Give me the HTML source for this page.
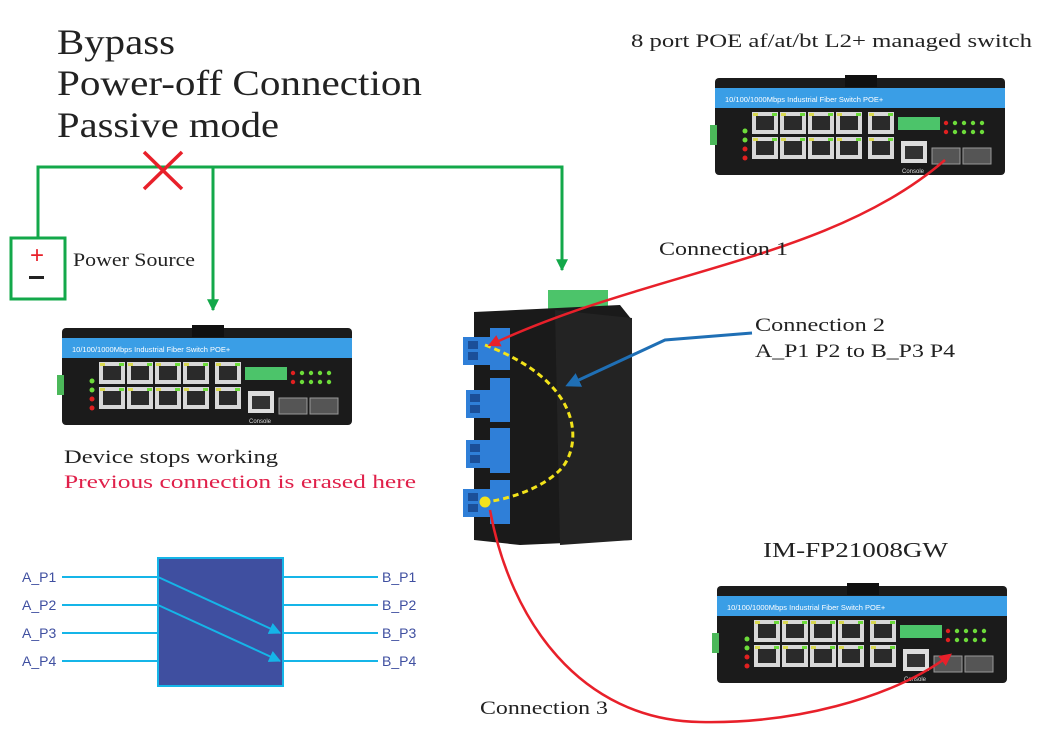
<!DOCTYPE html>
<html><head><meta charset="utf-8"><style>
html,body{margin:0;padding:0;background:#fff;}
svg{display:block}
.t{font-family:"Liberation Serif",serif;fill:#222}
.s{font-family:"Liberation Sans",sans-serif}
</style></head><body>
<svg width="1046" height="739" viewBox="0 0 1046 739" xmlns="http://www.w3.org/2000/svg">
<defs>
<marker id="ag" viewBox="0 0 10 10" refX="9" refY="5" markerWidth="4" markerHeight="4" orient="auto"><path d="M0,0L10,5L0,10z" fill="#13a84a"/></marker>
<marker id="ar" viewBox="0 0 10 10" refX="8" refY="5" markerWidth="5" markerHeight="5" orient="auto"><path d="M0,0L10,5L0,10z" fill="#e8202a"/></marker>
<marker id="ab" viewBox="0 0 10 10" refX="8" refY="5" markerWidth="5" markerHeight="5" orient="auto"><path d="M0,0L10,5L0,10z" fill="#1f6fb5"/></marker>
<marker id="ac" viewBox="0 0 10 10" refX="9" refY="5" markerWidth="6" markerHeight="6" orient="auto"><path d="M0,0L10,5L0,10z" fill="#15b5e8"/></marker>
<g id="port"><rect x="0" y="0" width="26" height="22" fill="#d8d8d8"/><rect x="4" y="4" width="18" height="14" fill="#2a2a2a"/><rect x="1" y="1" width="5" height="3" fill="#d8d850"/><rect x="20" y="1" width="5" height="3" fill="#6ddc3a"/></g>
<g id="sw">
<rect x="0" y="3" width="290" height="97" rx="4" fill="#1b1b1b"/>
<rect x="-5" y="50" width="7" height="20" fill="#4cb85a"/>
<rect x="0" y="13" width="290" height="20" fill="#3a9ee6"/>
<rect x="130" y="0" width="32" height="12" fill="#101010"/>
<use href="#port" x="37" y="37"/><use href="#port" x="65" y="37"/><use href="#port" x="93" y="37"/><use href="#port" x="121" y="37"/>
<use href="#port" x="37" y="62"/><use href="#port" x="65" y="62"/><use href="#port" x="93" y="62"/><use href="#port" x="121" y="62"/>
<use href="#port" x="153" y="37"/><use href="#port" x="153" y="62"/>
<rect x="183" y="42" width="42" height="13" fill="#4cc46a"/>
<rect x="186" y="66" width="26" height="22" fill="#ddd"/><rect x="190" y="71" width="18" height="13" fill="#333"/>
<rect x="217" y="73" width="28" height="16" fill="#555" stroke="#999"/><rect x="248" y="73" width="28" height="16" fill="#555" stroke="#999"/>
<circle cx="30" cy="56" r="2.5" fill="#6ddc3a"/><circle cx="30" cy="65" r="2.5" fill="#6ddc3a"/><circle cx="30" cy="74" r="2.5" fill="#e02020"/><circle cx="30" cy="83" r="2.5" fill="#e02020"/>
<circle cx="231" cy="48" r="2.2" fill="#e02020"/><circle cx="231" cy="57" r="2.2" fill="#e02020"/>
<circle cx="240" cy="48" r="2.2" fill="#6ddc3a"/><circle cx="249" cy="48" r="2.2" fill="#6ddc3a"/><circle cx="258" cy="48" r="2.2" fill="#6ddc3a"/><circle cx="267" cy="48" r="2.2" fill="#6ddc3a"/>
<circle cx="240" cy="57" r="2.2" fill="#6ddc3a"/><circle cx="249" cy="57" r="2.2" fill="#6ddc3a"/><circle cx="258" cy="57" r="2.2" fill="#6ddc3a"/><circle cx="267" cy="57" r="2.2" fill="#6ddc3a"/>
</g>
</defs>

<g lengthAdjust="spacingAndGlyphs">
<text class="t" x="57" y="54" font-size="36" textLength="118" lengthAdjust="spacingAndGlyphs">Bypass</text>
<text class="t" x="57" y="95" font-size="36" textLength="365" lengthAdjust="spacingAndGlyphs">Power-off Connection</text>
<text class="t" x="57" y="137" font-size="36" textLength="222" lengthAdjust="spacingAndGlyphs">Passive mode</text>
<text class="t" x="631" y="47" font-size="19" textLength="401" lengthAdjust="spacingAndGlyphs">8  port POE af/at/bt L2+ managed switch</text>
</g>

<polyline points="38,237 38,167 562,167 562,270" fill="none" stroke="#13a84a" stroke-width="3" marker-end="url(#ag)"/>
<line x1="213" y1="167" x2="213" y2="310" stroke="#13a84a" stroke-width="3" marker-end="url(#ag)"/>
<rect x="11" y="238" width="54" height="61" fill="none" stroke="#13a84a" stroke-width="3"/>
<text x="37" y="263" font-size="24" fill="#e8202a" text-anchor="middle" class="s">+</text>
<rect x="29" y="276" width="15" height="3" fill="#222"/>
<text class="t" x="73" y="266" font-size="19" textLength="122" lengthAdjust="spacingAndGlyphs">Power Source</text>
<line x1="144" y1="152" x2="182" y2="189" stroke="#e8202a" stroke-width="3.5"/>
<line x1="182" y1="152" x2="144" y2="189" stroke="#e8202a" stroke-width="3.5"/>

<g transform="translate(62,325)"><use href="#sw"/>
<text x="10" y="27" font-size="7.5" fill="#fff" class="s">10/100/1000Mbps Industrial  Fiber Switch  POE+</text>
<text x="187" y="98" font-size="6" fill="#ddd" class="s">Console</text></g>
<text class="t" x="64" y="463" font-size="19" textLength="214" lengthAdjust="spacingAndGlyphs">Device stops working</text>
<text class="t" x="64" y="488" font-size="19" style="fill:#e0204a" textLength="352" lengthAdjust="spacingAndGlyphs">Previous connection  is  erased here</text>

<g transform="translate(715,75)"><use href="#sw"/>
<text x="10" y="27" font-size="7.5" fill="#fff" class="s">10/100/1000Mbps Industrial  Fiber Switch  POE+</text>
<text x="187" y="98" font-size="6" fill="#ddd" class="s">Console</text></g>

<text class="t" x="763" y="557" font-size="21" textLength="185" lengthAdjust="spacingAndGlyphs">IM-FP21008GW</text>
<g transform="translate(717,583)"><use href="#sw"/>
<text x="10" y="27" font-size="7.5" fill="#fff" class="s">10/100/1000Mbps Industrial  Fiber Switch  POE+</text>
<text x="187" y="98" font-size="6" fill="#ddd" class="s">Console</text></g>

<rect x="548" y="290" width="60" height="22" fill="#4cc46a"/>
<path d="M474,312 L620,305 L632,320 L632,540 L520,545 L474,540 Z" fill="#1a1a1a"/>
<path d="M555,310 L632,318 L632,540 L560,545 Z" fill="#232323"/>
<g fill="#2f7fd8">
<rect x="490" y="328" width="20" height="42"/><rect x="463" y="337" width="32" height="28"/>
<rect x="490" y="378" width="20" height="44"/><rect x="466" y="390" width="28" height="28"/>
<rect x="490" y="428" width="20" height="45"/><rect x="466" y="440" width="28" height="28"/>
<rect x="490" y="480" width="20" height="44"/><rect x="463" y="489" width="32" height="28"/>
</g>
<g fill="#1b4f99"><rect x="468" y="341" width="10" height="8"/><rect x="468" y="352" width="10" height="8"/>
<rect x="470" y="394" width="10" height="8"/><rect x="470" y="405" width="10" height="8"/>
<rect x="470" y="444" width="10" height="8"/><rect x="470" y="455" width="10" height="8"/>
<rect x="468" y="493" width="10" height="8"/><rect x="468" y="504" width="10" height="8"/></g>

<path d="M485,345 C590,385 580,450 560,470 C540,490 505,500 485,502" fill="none" stroke="#f2e31a" stroke-width="3" stroke-dasharray="6,4"/>
<circle cx="485" cy="502" r="5.5" fill="#f2e31a"/>
<path d="M945,160 C830,260 650,270 490,345" fill="none" stroke="#e8202a" stroke-width="2.5" marker-end="url(#ar)"/>
<polyline points="752,333 665,340 568,385" fill="none" stroke="#1f6fb5" stroke-width="3" marker-end="url(#ab)"/>
<path d="M490,510 C510,620 580,720 700,722 C790,724 890,700 950,655" fill="none" stroke="#e8202a" stroke-width="2.5" marker-end="url(#ar)"/>
<text class="t" x="659" y="255" font-size="19" textLength="129" lengthAdjust="spacingAndGlyphs">Connection 1</text>
<text class="t" x="755" y="331" font-size="19" textLength="130" lengthAdjust="spacingAndGlyphs">Connection 2</text>
<text class="t" x="755" y="357" font-size="19" textLength="200" lengthAdjust="spacingAndGlyphs">A_P1 P2 to B_P3 P4</text>
<text class="t" x="480" y="714" font-size="19" textLength="128" lengthAdjust="spacingAndGlyphs">Connection 3</text>

<rect x="158" y="558" width="125" height="128" fill="#3f4fa0" stroke="#15b5e8" stroke-width="2"/>
<g stroke="#15b5e8" stroke-width="2">
<line x1="62" y1="577" x2="158" y2="577"/><line x1="62" y1="605" x2="158" y2="605"/>
<line x1="62" y1="633" x2="158" y2="633"/><line x1="62" y1="661" x2="158" y2="661"/>
<line x1="283" y1="577" x2="378" y2="577"/><line x1="283" y1="605" x2="378" y2="605"/>
<line x1="283" y1="633" x2="378" y2="633"/><line x1="283" y1="661" x2="378" y2="661"/>
<line x1="158" y1="577" x2="280" y2="633" marker-end="url(#ac)"/>
<line x1="158" y1="605" x2="280" y2="661" marker-end="url(#ac)"/>
</g>
<g class="s" font-size="14" fill="#3f4fa0">
<text x="22" y="582">A_P1</text><text x="22" y="610">A_P2</text><text x="22" y="638">A_P3</text><text x="22" y="666">A_P4</text>
<text x="382" y="582">B_P1</text><text x="382" y="610">B_P2</text><text x="382" y="638">B_P3</text><text x="382" y="666">B_P4</text>
</g>
</svg>
</body></html>
